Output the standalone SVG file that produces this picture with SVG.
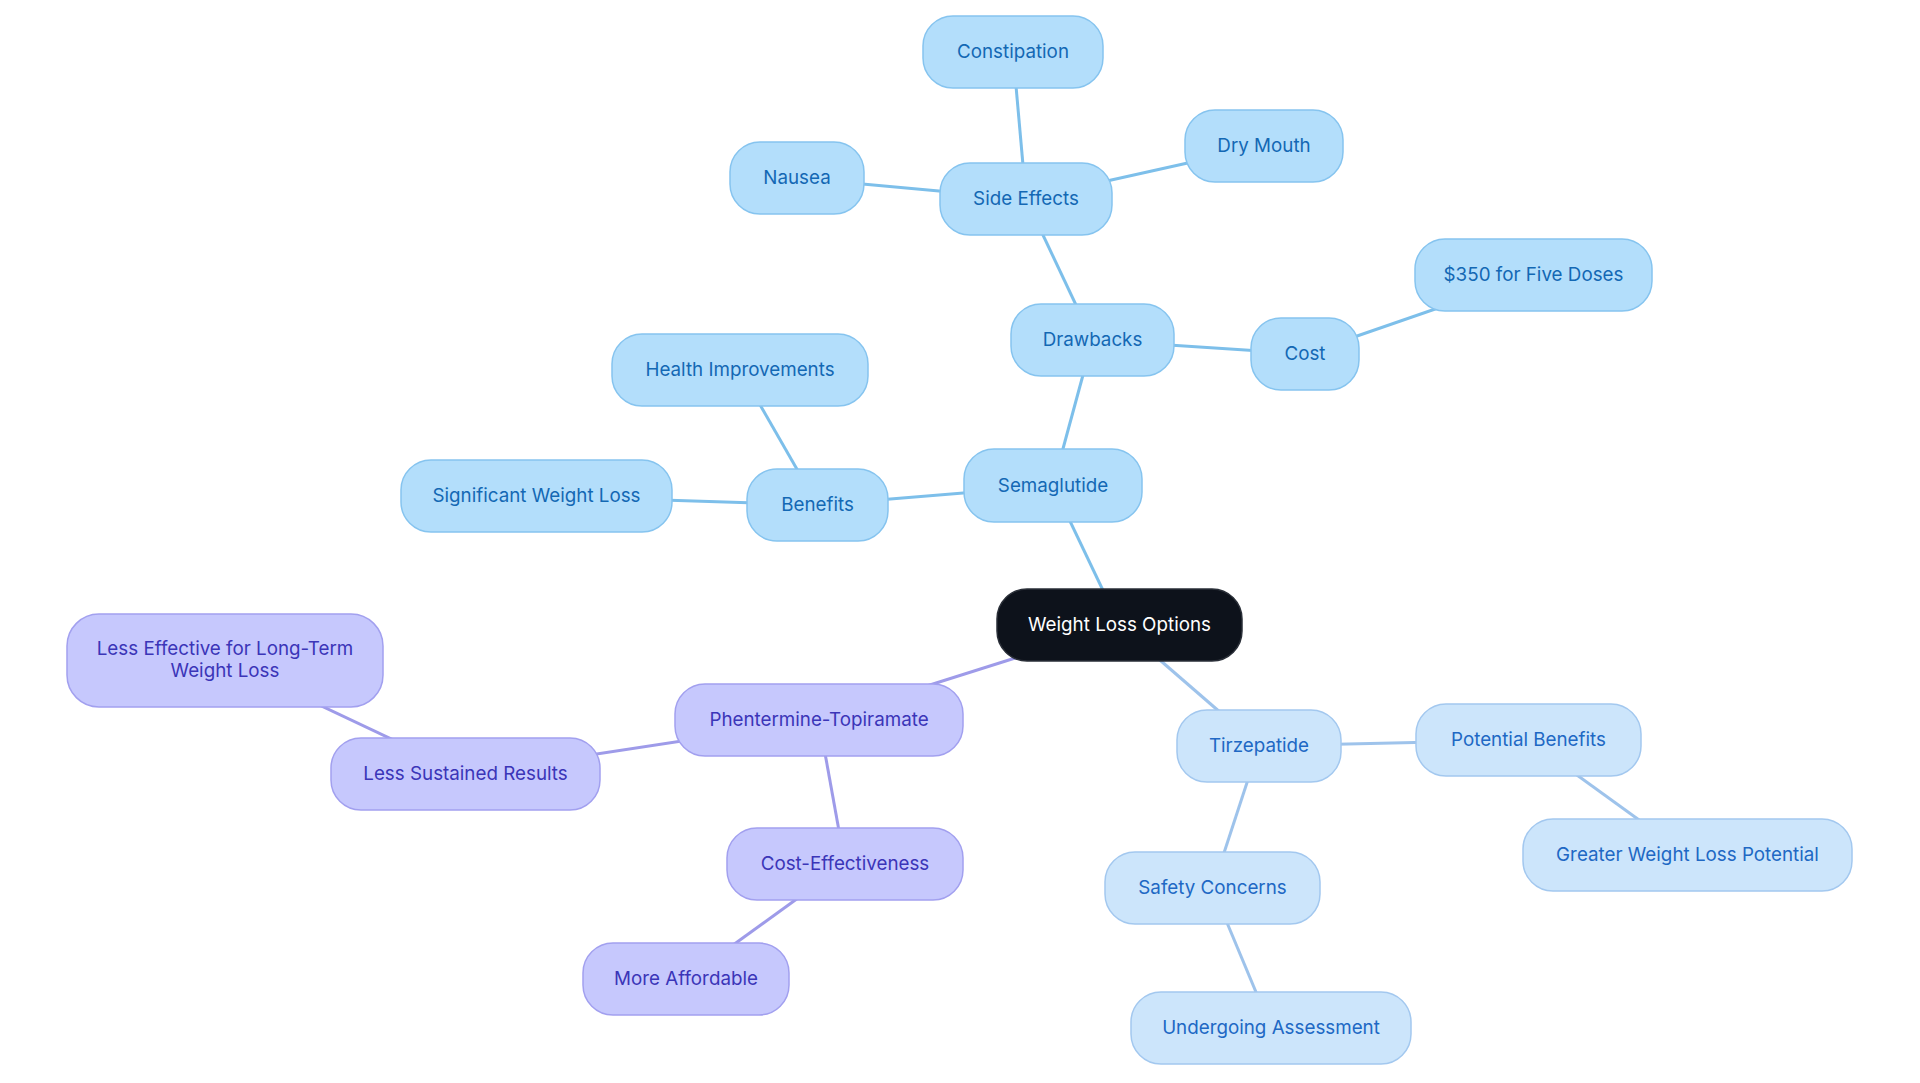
<svg xmlns="http://www.w3.org/2000/svg" width="1920" height="1083" viewBox="0 0 1920 1083">
<style>
text{font-family:Inter,"Noto Sans","Liberation Sans",sans-serif;font-size:18.8px;text-anchor:middle}
.s rect{fill:#b3defb;stroke:#86c4ef;stroke-width:1.5}
.s text{fill:#1368b4}
.t rect{fill:#cce5fb;stroke:#a3c8ef;stroke-width:1.5}
.t text{fill:#2068c4}
.p rect{fill:#c6c8fd;stroke:#a2a0ef;stroke-width:1.5}
.p text{fill:#3b35b8}
.r rect{fill:#0d121b;stroke:#2a2f38;stroke-width:1.5}
.r text{fill:#ffffff}
.es{stroke:#7dbfea;stroke-width:3;fill:none}
.et{stroke:#9ec3eb;stroke-width:3;fill:none}
.ep{stroke:#9e9be9;stroke-width:3;fill:none}
</style>
<rect width="1920" height="1083" fill="#ffffff"/>
<g id="connectors">
<line class="es" x1="1119.5" y1="625" x2="1053" y2="485.5"/>
<line class="es" x1="1053" y1="485.5" x2="1092.5" y2="340"/>
<line class="es" x1="1092.5" y1="340" x2="1026" y2="199"/>
<line class="es" x1="1026" y1="199" x2="1013" y2="52"/>
<line class="es" x1="1026" y1="199" x2="797" y2="178"/>
<line class="es" x1="1026" y1="199" x2="1264" y2="146"/>
<line class="es" x1="1092.5" y1="340" x2="1305" y2="354"/>
<line class="es" x1="1305" y1="354" x2="1533.5" y2="275"/>
<line class="es" x1="1053" y1="485.5" x2="817.5" y2="505"/>
<line class="es" x1="817.5" y1="505" x2="740" y2="370"/>
<line class="es" x1="817.5" y1="505" x2="536.5" y2="496"/>
<line class="ep" x1="1119.5" y1="625" x2="819" y2="720"/>
<line class="ep" x1="819" y1="720" x2="465.5" y2="774"/>
<line class="ep" x1="465.5" y1="774" x2="225" y2="660.5"/>
<line class="ep" x1="819" y1="720" x2="845" y2="864"/>
<line class="ep" x1="845" y1="864" x2="686" y2="979"/>
<line class="et" x1="1119.5" y1="625" x2="1259" y2="746"/>
<line class="et" x1="1259" y1="746" x2="1528.5" y2="740"/>
<line class="et" x1="1528.5" y1="740" x2="1687.5" y2="855"/>
<line class="et" x1="1259" y1="746" x2="1212.5" y2="888"/>
<line class="et" x1="1212.5" y1="888" x2="1271" y2="1028"/>
</g>
<g id="root" class="r"><rect x="997" y="589" width="245" height="72" rx="30"/><text x="1119.5" y="631">Weight Loss Options</text></g>
<g id="semaglutide" class="s"><rect x="964" y="449" width="178" height="73" rx="30"/><text x="1053" y="491.5">Semaglutide</text></g>
<g id="drawbacks" class="s"><rect x="1011" y="304" width="163" height="72" rx="30"/><text x="1092.5" y="346">Drawbacks</text></g>
<g id="side-effects" class="s"><rect x="940" y="163" width="172" height="72" rx="30"/><text x="1026" y="205">Side Effects</text></g>
<g id="constipation" class="s"><rect x="923" y="16" width="180" height="72" rx="30"/><text x="1013" y="58">Constipation</text></g>
<g id="nausea" class="s"><rect x="730" y="142" width="134" height="72" rx="30"/><text x="797" y="184">Nausea</text></g>
<g id="dry-mouth" class="s"><rect x="1185" y="110" width="158" height="72" rx="30"/><text x="1264" y="152">Dry Mouth</text></g>
<g id="cost" class="s"><rect x="1251" y="318" width="108" height="72" rx="30"/><text x="1305" y="360">Cost</text></g>
<g id="price" class="s"><rect x="1415" y="239" width="237" height="72" rx="30"/><text x="1533.5" y="281">$350 for Five Doses</text></g>
<g id="benefits" class="s"><rect x="747" y="469" width="141" height="72" rx="30"/><text x="817.5" y="511">Benefits</text></g>
<g id="health-improvements" class="s"><rect x="612" y="334" width="256" height="72" rx="30"/><text x="740" y="376">Health Improvements</text></g>
<g id="significant-weight-loss" class="s"><rect x="401" y="460" width="271" height="72" rx="30"/><text x="536.5" y="502">Significant Weight Loss</text></g>
<g id="phentermine" class="p"><rect x="675" y="684" width="288" height="72" rx="30"/><text x="819" y="726">Phentermine-Topiramate</text></g>
<g id="less-sustained" class="p"><rect x="331" y="738" width="269" height="72" rx="30"/><text x="465.5" y="780">Less Sustained Results</text></g>
<g id="less-effective" class="p"><rect x="67" y="614" width="316" height="93" rx="32"/><text x="225" y="655">Less Effective for Long-Term</text><text x="225" y="677">Weight Loss</text></g>
<g id="cost-effectiveness" class="p"><rect x="727" y="828" width="236" height="72" rx="30"/><text x="845" y="870">Cost-Effectiveness</text></g>
<g id="more-affordable" class="p"><rect x="583" y="943" width="206" height="72" rx="30"/><text x="686" y="985">More Affordable</text></g>
<g id="tirzepatide" class="t"><rect x="1177" y="710" width="164" height="72" rx="30"/><text x="1259" y="752">Tirzepatide</text></g>
<g id="potential-benefits" class="t"><rect x="1416" y="704" width="225" height="72" rx="30"/><text x="1528.5" y="746">Potential Benefits</text></g>
<g id="greater-potential" class="t"><rect x="1523" y="819" width="329" height="72" rx="30"/><text x="1687.5" y="861">Greater Weight Loss Potential</text></g>
<g id="safety-concerns" class="t"><rect x="1105" y="852" width="215" height="72" rx="30"/><text x="1212.5" y="894">Safety Concerns</text></g>
<g id="undergoing-assessment" class="t"><rect x="1131" y="992" width="280" height="72" rx="30"/><text x="1271" y="1034">Undergoing Assessment</text></g>
</svg>
